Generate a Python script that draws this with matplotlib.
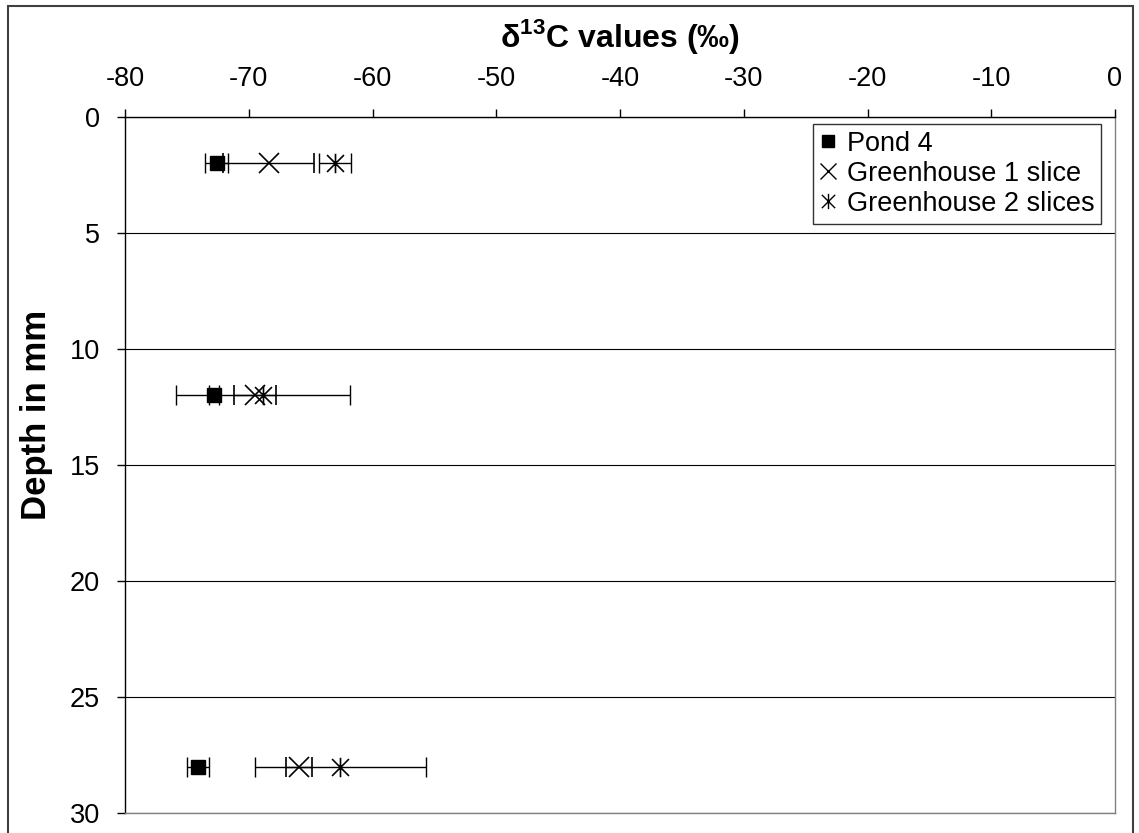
import matplotlib
matplotlib.use("Agg")
import matplotlib.pyplot as plt
from matplotlib.path import Path
from matplotlib.patches import Rectangle
from matplotlib.lines import Line2D

plt.rcParams['font.family'] = ['Liberation Sans', 'DejaVu Sans']
plt.rcParams['mathtext.fontset'] = 'custom'
plt.rcParams['mathtext.rm'] = 'Liberation Sans'
plt.rcParams['mathtext.bf'] = 'Liberation Sans:bold'
plt.rcParams['axes.unicode_minus'] = False

# data: depth (mm) and delta 13C (permil) with error bars
depth = [2, 12, 28]
pond4 = [-72.6, -72.8, -74.1]
pond4_err = [0.9, 0.4, 0.9]
gh1 = [-68.4, -69.5, -65.95]
gh1_err = [3.7, 1.7, 1.05]
gh2 = [-63.0, -68.85, -62.6]
gh2_err = [1.3, 7.0, 6.9]

series_names = ['Pond 4', 'Greenhouse 1 slice', 'Greenhouse 2 slices']
x_ticks = [-80, -70, -60, -50, -40, -30, -20, -10, 0]
y_ticks = [0, 5, 10, 15, 20, 25, 30]

# Excel style star: x with a vertical stroke
star = Path([(-1, -1), (1, 1), (-1, 1), (1, -1), (0, -1.15), (0, 1.15)],
            [Path.MOVETO, Path.LINETO, Path.MOVETO, Path.LINETO, Path.MOVETO, Path.LINETO])

fig = plt.figure(figsize=(11.39, 8.33), dpi=100)
fig.patches.append(Rectangle((8 / 1139, -0.05), 1125 / 1139, 1.05 - 6 / 833, transform=fig.transFigure,
                             fill=False, edgecolor='#404040', linewidth=1.5))
ax = fig.add_axes([125 / 1139, 1 - 813 / 833, 990 / 1139, 696 / 833])

ebar = dict(ecolor='black', capsize=7, elinewidth=1, capthick=1, zorder=3)
ax.errorbar(pond4, depth, xerr=pond4_err, fmt='s', color='black', ms=9.5, **ebar)
ax.errorbar(gh1, depth, xerr=gh1_err, fmt='x', color='black', ms=14, mew=1.2, **ebar)
ax.errorbar(gh2, depth, xerr=gh2_err, fmt='none', **ebar)
ax.plot(gh2, depth, linestyle='none', marker=star, color='black', ms=14, mew=1.2, zorder=4)

ax.set_xlim(-80, 0)
ax.set_ylim(30, 0)
ax.set_xticks(x_ticks)
ax.set_yticks(y_ticks)
ax.xaxis.tick_top()
ax.xaxis.set_label_position('top')
ax.tick_params(axis='both', direction='out', length=6, width=1, labelsize=19.5, pad=12)
ax.yaxis.grid(True, color='black', linewidth=0.8)
ax.set_axisbelow(True)

for s in ('top', 'left'):
    ax.spines[s].set_color('black')
    ax.spines[s].set_linewidth(1)
for s in ('right', 'bottom'):
    ax.spines[s].set_color('#808080')
    ax.spines[s].set_linewidth(1)

ax.set_xlabel(r'δ$^{\mathbf{13}}$C values (‰)', fontsize=23, fontweight='bold', va='center')
ax.xaxis.set_label_coords(0.5, (813 - 37) / 696)
ax.set_ylabel('Depth in mm', fontsize=25, fontweight='bold', va='center')
ax.yaxis.set_label_coords((37 - 125) / 990, (813 - 415) / 696)

handles = [Line2D([], [], linestyle='none', marker='s', color='black', ms=8),
           Line2D([], [], linestyle='none', marker='x', color='black', ms=11, mew=1),
           Line2D([], [], linestyle='none', marker=star, color='black', ms=11, mew=1)]
leg = ax.legend(handles, series_names, loc='upper right', fontsize=19.5, frameon=True, fancybox=False,
                edgecolor='black', handlelength=0.6, handletextpad=0.4, borderpad=0.25,
                labelspacing=0.15, borderaxespad=0, bbox_to_anchor=(0.986, 0.99))
leg.get_frame().set_linewidth(1)

fig.savefig('out.png', dpi=100)
